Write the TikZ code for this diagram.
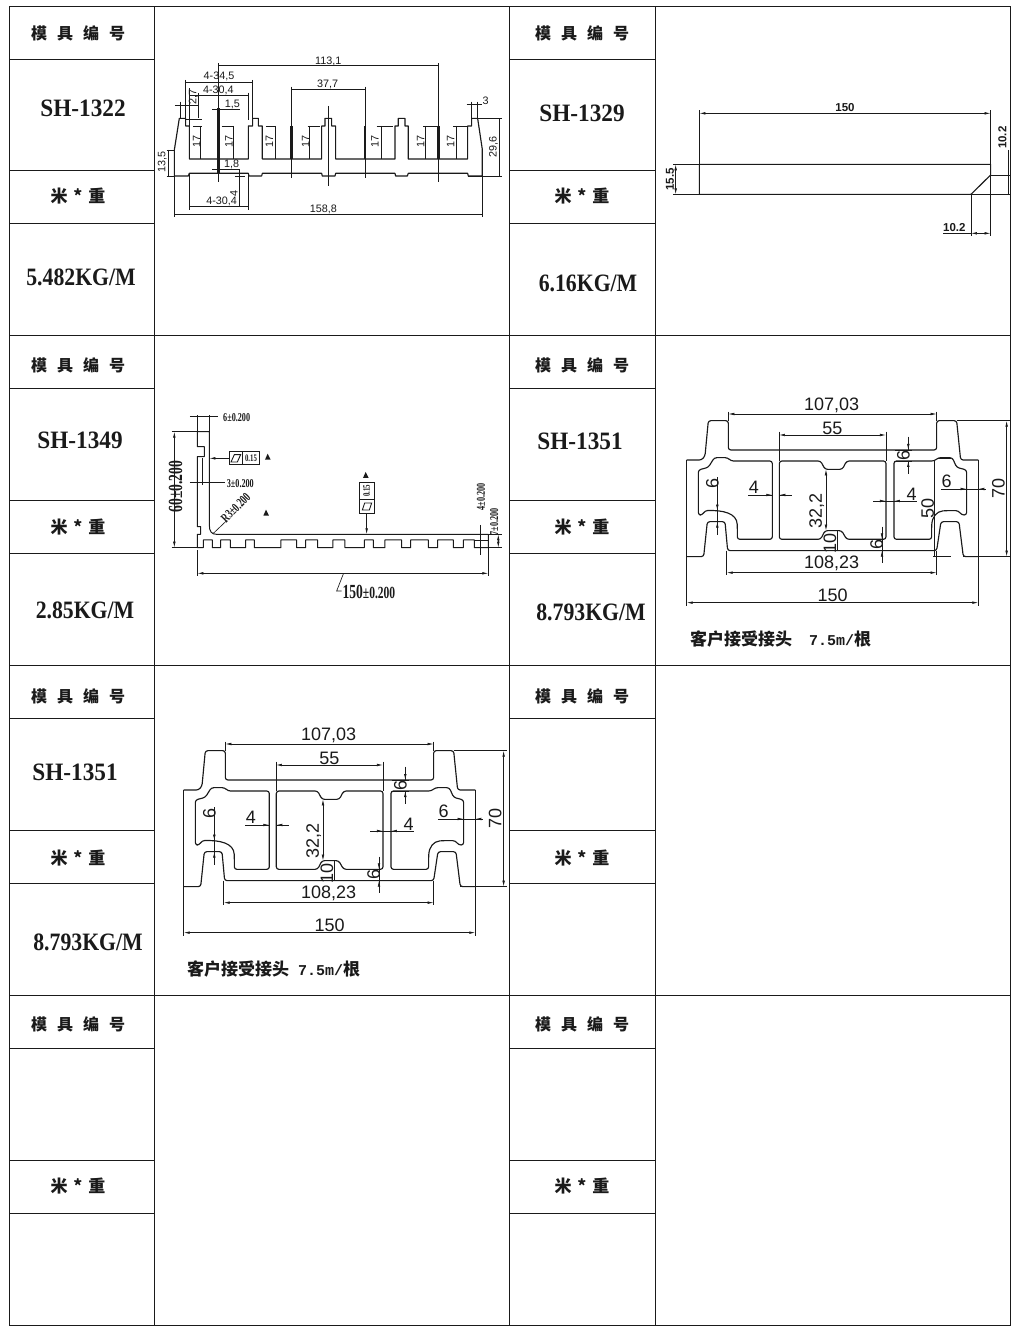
\documentclass[tikz,border=0pt]{standalone}
\usepackage{fontspec}
\setmainfont{Liberation Serif}
\setsansfont{Liberation Sans}
\setmonofont{Liberation Mono}
\newfontfamily\cjk{Noto Sans CJK SC}
\usetikzlibrary{arrows.meta}
\definecolor{ink}{HTML}{1A1A1A}
\newcommand{\fs}[1]{\fontsize{#1}{#1}\selectfont}
\newcommand{\hdrtext}{\cjk\fs{16}\bfseries 模\hspace{10pt}具\hspace{10pt}编\hspace{10pt}号}
\newcommand{\wgttext}{\cjk\fs{17}\bfseries 米\hspace{6pt}*\hspace{6pt}重}
\newcommand{\cnd}[1]{\scalebox{0.68}[1]{#1}}
\newcommand{\tol}[2]{\cnd{\bfseries\fs{#1}#2}}
\newcommand{\modelno}[1]{\scalebox{0.93}[1]{\bfseries\fs{25}#1}}
\newcommand{\weight}[1]{\scalebox{0.87}[1]{\bfseries\fs{25}#1}}
\tikzset{
  x=1pt,y=-1pt,
  frame/.style={draw=ink,line width=1pt},
  bigtxt/.style={text=ink,inner sep=0pt},
  hdr/.style={text=ink,inner sep=0pt},
  prof/.style={draw=ink,line width=1.15pt,line join=round},
  round prof/.style={prof,rounded corners=2.5pt},
  thin dim/.style={draw=ink,line width=.65pt},
  arrow dim/.style={thin dim,{Latex[length=6pt,width=2.6pt]}-{Latex[length=6pt,width=2.6pt]}},
  arrow end/.style={thin dim,-{Latex[length=6pt,width=2.6pt]}},
  small/.style={font=\sffamily\fs{10.8},text=ink,inner sep=0pt},
  large/.style={font=\sffamily\fs{18},text=ink,inner sep=0pt},
  mid/.style={font=\sffamily\bfseries\fs{11.5},text=ink,inner sep=0pt},
  tol text/.style={text=ink,inner sep=0pt},
  note/.style={text=ink,inner sep=0pt,anchor=west},
}
% the H-shaped profile, shared by two cells
\newcommand{\hprofile}{%
  \draw[round prof] (95,240) -- (140,240) -- (150,228) -- (160,122) -- (220,122) -- (220,210) -- (845,210) -- (845,122) -- (905,122) -- (917,240) -- (970,240);
  \draw[round prof] (970,530) -- (925,530) -- (912,425) -- (858,425) -- (845,512) -- (218,512) -- (210,425) -- (157,425) -- (146,530) -- (95,530);
  \draw[prof] (95,240) -- (95,530) (970,240) -- (970,530);
  \draw[round prof] (130,405) -- (130,270) -- (160,262) -- (178,233) -- (218,233) -- (228,243) -- (352,243) -- (352,478) -- (247,478) -- (247,440) .. controls (245,400) and (205,390) .. (150,392) -- (142,405) -- cycle;
  \draw[round prof] (373,243) -- (497,243) -- (510,268) -- (562,268) -- (575,243) -- (693,243) -- (693,478) -- (575,478) -- (560,452) -- (510,452) -- (497,478) -- (373,478) -- cycle;
  \draw[round prof] (717,243) -- (838,243) -- (850,233) -- (892,233) -- (905,262) -- (935,270) -- (935,405) -- (920,405) -- (910,392) -- (870,392) .. controls (845,395) and (832,410) .. (830,440) -- (830,478) -- (717,478) -- cycle;
  \draw[thin dim] (220,95) -- (220,122) (845,95) -- (845,122);
  \draw[arrow dim] (220,102) -- (845,102);
  \node[large] (w107) at (530,75) {107,03};
  \draw[thin dim] (372,155) -- (372,243) (693,155) -- (693,243);
  \draw[arrow dim] (372,165) -- (693,165);
  \node[large] (w55) at (532,145) {55};
  \draw[thin dim] (720,243) -- (770,243) (720,210) -- (770,210);
  \draw[thin dim] (760,170) -- (760,210) (760,243) -- (760,282);
  \draw[arrow end] (760,190) -- (760,210);
  \draw[arrow end] (760,263) -- (760,243);
  \node[large,rotate=90] (w6a) at (745,225) {6};
  \draw[thin dim] (187,292) -- (187,465);
  \draw[arrow end] (187,370) -- (187,392);
  \draw[arrow end] (187,447) -- (187,425);
  \node[large,rotate=90] (w6b) at (172,310) {6};
  \draw[thin dim] (280,345) -- (352,345) (373,345) -- (410,345);
  \draw[arrow end] (325,345) -- (352,345);
  \draw[arrow end] (400,345) -- (373,345);
  \node[large] (w4a) at (297,323) {4};
  \draw[arrow dim] (513,268) -- (513,452);
  \node[large,rotate=90] (w32) at (485,393) {32,2};
  \draw[thin dim] (547,452) -- (547,512);
  \node[large,rotate=90] (w10) at (525,490) {10};
  \draw[thin dim] (681,440) -- (681,548);
  \draw[arrow end] (681,458) -- (681,478);
  \draw[arrow end] (681,532) -- (681,512);
  \node[large,rotate=90] (w6c) at (665,495) {6};
  \draw[thin dim] (215,512) -- (215,586) (845,512) -- (845,586);
  \draw[arrow dim] (215,578) -- (845,578);
  \node[large] (w108) at (530,550) {108,23};
  \draw[thin dim] (95,530) -- (95,678) (970,530) -- (970,678);
  \draw[arrow dim] (95,668) -- (970,668);
  \node[large] (w150) at (533,646) {150};
  \draw[thin dim] (905,122) -- (1065,122) (925,530) -- (1065,530);
  \draw[arrow dim] (1055,122) -- (1055,530);
  \node[large,rotate=90] (w70) at (1030,325) {70};
  \draw[thin dim] (858,327) -- (990,327);
  \draw[arrow end] (912,327) -- (935,327);
  \draw[arrow end] (992,327) -- (970,327);
  \node[large] (w6d) at (875,305) {6};
  \draw[thin dim] (655,363) -- (787,363);
  \draw[arrow end] (668,363) -- (693,363);
  \draw[arrow end] (740,363) -- (717,363);
  \node[large] (w4b) at (770,342) {4};
}
\begin{document}
\begin{tikzpicture}
\useasboundingbox (0,0) rectangle (1024,1339);
\fill[white] (0,0) rectangle (1024,1339);
% table frame
\draw[frame] (9,6) rectangle (1010,1325);
\foreach \xx in {154,509,655} \draw[frame] (\xx,6) -- (\xx,1325);
\draw[frame] (9,335) -- (1010,335) (9,665) -- (1010,665) (9,995) -- (1010,995);
\foreach \yy in {59,170,223,388,500,553,718,830,883,1048,1160,1213} {
  \draw[frame] (9,\yy) -- (154,\yy) (509,\yy) -- (655,\yy);
}
% header labels
\foreach \yy/\nn in {33/a,365/b,696/c,1024/d} {
  \node[hdr] (hl\nn) at (78,\yy) {\hdrtext};
  \node[hdr] (hr\nn) at (582,\yy) {\hdrtext};
}
\foreach \yy/\nn in {196/a,527/b,858/c,1186/d} {
  \node[hdr] (wl\nn) at (78,\yy) {\wgttext};
  \node[hdr] (wr\nn) at (582,\yy) {\wgttext};
}
% model numbers and weights
\node[bigtxt] (m1) at (83,108) {\modelno{SH-1322}};
\node[bigtxt] (k1) at (81,277) {\weight{5.482KG/M}};
\node[bigtxt] (m2) at (582,113) {\modelno{SH-1329}};
\node[bigtxt] (k2) at (588,283) {\weight{6.16KG/M}};
\node[bigtxt] (m3) at (80,440) {\modelno{SH-1349}};
\node[bigtxt] (k3) at (85,610) {\weight{2.85KG/M}};
\node[bigtxt] (m4) at (580,441) {\modelno{SH-1351}};
\node[bigtxt] (k4) at (591,612) {\weight{8.793KG/M}};
\node[bigtxt] (m5) at (75,772) {\modelno{SH-1351}};
\node[bigtxt] (k5) at (88,942) {\weight{8.793KG/M}};
% ---- SH-1322
\begin{scope}[shift={(155,50)},scale=0.3333]
  \draw[prof] (58,300) -- (73,205) -- (92,205) -- (92,228) -- (103,228) -- (103,327) -- (280,327) -- (280,228) -- (293,228) -- (293,205) -- (310,205) -- (310,228) -- (322,228) -- (322,327) -- (500,327) -- (500,228) -- (510,228) -- (510,205) -- (530,205) -- (530,228) -- (542,228) -- (542,327) -- (720,327) -- (720,228) -- (730,228) -- (730,205) -- (750,205) -- (750,228) -- (760,228) -- (760,327) -- (938,327) -- (938,228) -- (950,228) -- (950,205) -- (968,205) -- (982,298) -- (982,378) -- (940,378) -- (938,370) -- (760,370) -- (757,378) -- (722,378) -- (720,370) -- (542,370) -- (540,378) -- (502,378) -- (500,370) -- (322,370) -- (320,378) -- (282,378) -- (280,370) -- (103,370) -- (100,378) -- (58,378) -- cycle;
  \draw[draw=ink,line width=2.4pt] (190,175) -- (190,368) (410,228) -- (410,327) (630,228) -- (630,327) (850,228) -- (850,327);
  \foreach \xa/\xb/\xc/\xt in {115/140/135/125,200/238/235/222,333/362/360/343,458/495/463/452,665/715/678/660,805/850/812/797,895/935/903/887}{
    \draw[thin dim] (\xa,228) -- (\xb,228) (\xc,228) -- (\xc,327);
    \node[small,rotate=90] at (\xt,275) {17};
  }
  \draw[thin dim] (190,40) -- (190,395) (850,40) -- (850,395) (190,47) -- (850,47);
  \node[small] (a113) at (520,33) {113,1};
  \draw[thin dim] (410,110) -- (410,385) (630,110) -- (630,385) (410,118) -- (630,118);
  \node[small] (a37) at (518,102) {37,7};
  \draw[thin dim] (520,168) -- (520,408);
  \draw[thin dim] (90,90) -- (90,228) (293,90) -- (293,205) (90,97) -- (293,97);
  \node[small] (a34) at (192,80) {4-34,5};
  \draw[thin dim] (103,115) -- (103,228) (280,128) -- (280,210) (103,135) -- (280,135);
  \node[small] (a30) at (190,120) {4-30,4};
  \draw[thin dim] (130,130) -- (130,205) (60,167) -- (130,167) (75,155) -- (75,205) (90,207) -- (140,207);
  \node[small,rotate=90] (a27) at (115,140) {2,7};
  \draw[thin dim] (172,177) -- (255,177);
  \node[small] (a15) at (232,162) {1,5};
  \draw[thin dim] (35,300) -- (60,300) (35,378) -- (60,378) (40,300) -- (40,378);
  \node[small,rotate=90] (a13) at (22,335) {13,5};
  \draw[thin dim] (172,358) -- (255,358) (253,358) -- (253,470) (240,378) -- (270,378);
  \node[small] (a18) at (230,343) {1,8};
  \node[small,rotate=90] (a4) at (237,430) {4};
  \draw[thin dim] (103,370) -- (103,480) (280,370) -- (280,480) (103,470) -- (280,470);
  \node[small] (a304) at (200,455) {4-30,4};
  \draw[thin dim] (58,378) -- (58,500) (982,378) -- (982,500) (58,493) -- (982,493);
  \node[small] (a158) at (505,477) {158,8};
  \draw[thin dim] (935,162) -- (980,162) (950,155) -- (950,205) (968,155) -- (968,205);
  \node[small] (a3) at (992,152) {3};
  \draw[thin dim] (968,205) -- (1042,205) (940,378) -- (1042,378) (1032,205) -- (1032,378);
  \node[small,rotate=90] (a29) at (1016,290) {29,6};
\end{scope}
% ---- SH-1329
\begin{scope}[shift={(655,90)},scale=0.3333]
  \draw[prof] (133,223) -- (1007,223) -- (1007,255) -- (948,313) -- (133,313) -- cycle;
  \draw[thin dim] (133,60) -- (133,223) (1007,60) -- (1007,255);
  \draw[arrow dim] (133,70) -- (1007,70);
  \node[mid,fill=white,inner xsep=1pt] (b150) at (570,52) {150};
  \draw[thin dim] (55,223) -- (133,223) (55,313) -- (133,313);
  \draw[arrow dim] (62,223) -- (62,313);
  \node[mid,rotate=90] (b15) at (45,268) {15.5};
  \draw[thin dim] (1007,255) -- (1065,255) (948,313) -- (1065,313) (1060,180) -- (1060,313);
  \node[mid,rotate=90] (b10a) at (1042,143) {10.2};
  \draw[thin dim] (948,313) -- (948,437) (1007,255) -- (1007,437) (865,430) -- (948,430);
  \draw[arrow dim] (948,430) -- (1007,430);
  \node[mid] (b10b) at (898,412) {10.2};
\end{scope}
% ---- SH-1349
\begin{scope}[shift={(155,400)},scale=0.3333]
  \draw[prof,line width=1pt] (127,95) -- (163,95) -- (163,375) .. controls (163,395) and (170,403) .. (185,403) -- (1000,403) -- (1000,443) -- (958,443) -- (958,420) -- (925,420) -- (925,443) -- (895,443) -- (895,420) -- (848,420) -- (848,443) -- (820,443) -- (820,420) -- (767,420) -- (767,443) -- (740,443) -- (740,420) -- (690,420) -- (690,443) -- (655,443) -- (655,420) -- (628,420) -- (628,443) -- (570,443) -- (570,420) -- (534,420) -- (534,443) -- (488,443) -- (488,420) -- (452,420) -- (452,443) -- (425,443) -- (425,420) -- (378,420) -- (378,443) -- (298,443) -- (298,420) -- (272,420) -- (272,443) -- (226,443) -- (226,420) -- (197,420) -- (197,443) -- (172,443) -- (172,420) -- (145,420) -- (145,443) -- (127,443) -- (127,403) -- (137,403) -- (137,380) -- (127,380) -- (127,170) -- (148,170) -- (148,140) -- (127,140) -- cycle;
  \draw[thin dim] (105,50) -- (190,50) (127,45) -- (127,95) (163,45) -- (163,95);
  \node[tol text] (c6) at (245,52) {\tol{12}{6±0.200}};
  \draw[thin dim] (50,95) -- (127,95) (50,443) -- (127,443);
  \draw[arrow dim] (58,95) -- (58,443);
  \node[tol text,rotate=90] (c60) at (62,260) {\tol{20}{60±0.200}};
  \draw[thin dim,fill=white,line width=.9pt] (222,155) rectangle (263,193) (263,155) rectangle (313,193);
  \draw[arrow end] (222,175) -- (163,175);
  \draw[thin dim,line width=.9pt] (228,186) -- (238,164) -- (257,164) -- (247,186) -- cycle;
  \node[tol text] (c01a) at (288,175) {\tol{10}{0.15}};
  \fill[ink] (330,179) -- (338,161) -- (347,179) -- cycle;
  \draw[thin dim] (105,248) -- (210,248) (143,175) -- (143,255);
  \node[tol text] (c3) at (256,250) {\tol{12}{3±0.200}};
  \draw[thin dim] (215,362) -- (175,400);
  \node[tol text,rotate=45] (cr) at (242,323) {\tol{13}{R3±0.200}};
  \fill[ink] (325,347) -- (333,329) -- (342,347) -- cycle;
  \fill[ink] (624,234) -- (632,216) -- (641,234) -- cycle;
  \draw[thin dim,fill=white,line width=.9pt] (614,248) rectangle (657,298) (614,298) rectangle (657,340);
  \node[tol text,rotate=90] (c01b) at (635,273) {\tol{10}{0.15}};
  \draw[thin dim,line width=.9pt] (622,330) -- (629,309) -- (650,309) -- (643,330) -- cycle;
  \draw[arrow end] (635,340) -- (635,403);
  \draw[thin dim] (958,420) -- (1000,420) (975,375) -- (975,465);
  \node[tol text,rotate=90] (c4) at (978,290) {\tol{12}{4±0.200}};
  \draw[thin dim] (1000,403) -- (1042,403) (958,443) -- (1042,443);
  \draw[arrow dim] (1030,403) -- (1030,443);
  \node[tol text,rotate=90] (c7) at (1018,365) {\tol{12}{7±0.200}};
  \draw[thin dim] (127,450) -- (127,527) (1000,443) -- (1000,527);
  \draw[arrow dim] (127,520) -- (1000,520);
  \draw[thin dim] (565,522) -- (545,573) -- (560,573);
  \node[tol text,anchor=west] (c150) at (562,575) {\cnd{\bfseries\fs{20}150}\cnd{\bfseries\fs{17}±0.200}};
\end{scope}
% ---- SH-1351 (right)
\begin{scope}[shift={(655,380)},scale=0.3333]
  \hprofile
  \draw[thin dim] (838,243) -- (838,530) (835,530) -- (888,530);
  \draw[prof,line width=1.6pt] (848,236) -- (888,236);
  \node[large,rotate=90] (w50) at (818,385) {50};
\end{scope}
\node[note] (n1) at (690,639) {\cjk\bfseries\fs{17}客户接受接头\hspace{17pt}{\ttfamily\fs{15}7.5m/}根};
% ---- SH-1351 (left)
\begin{scope}[shift={(152,710)},scale=0.3333]
  \hprofile
\end{scope}
\node[note] (n2) at (187,969) {\cjk\bfseries\fs{17}客户接受接头\hspace{9pt}{\ttfamily\fs{15}7.5m/}根};
\end{tikzpicture}
\end{document}
